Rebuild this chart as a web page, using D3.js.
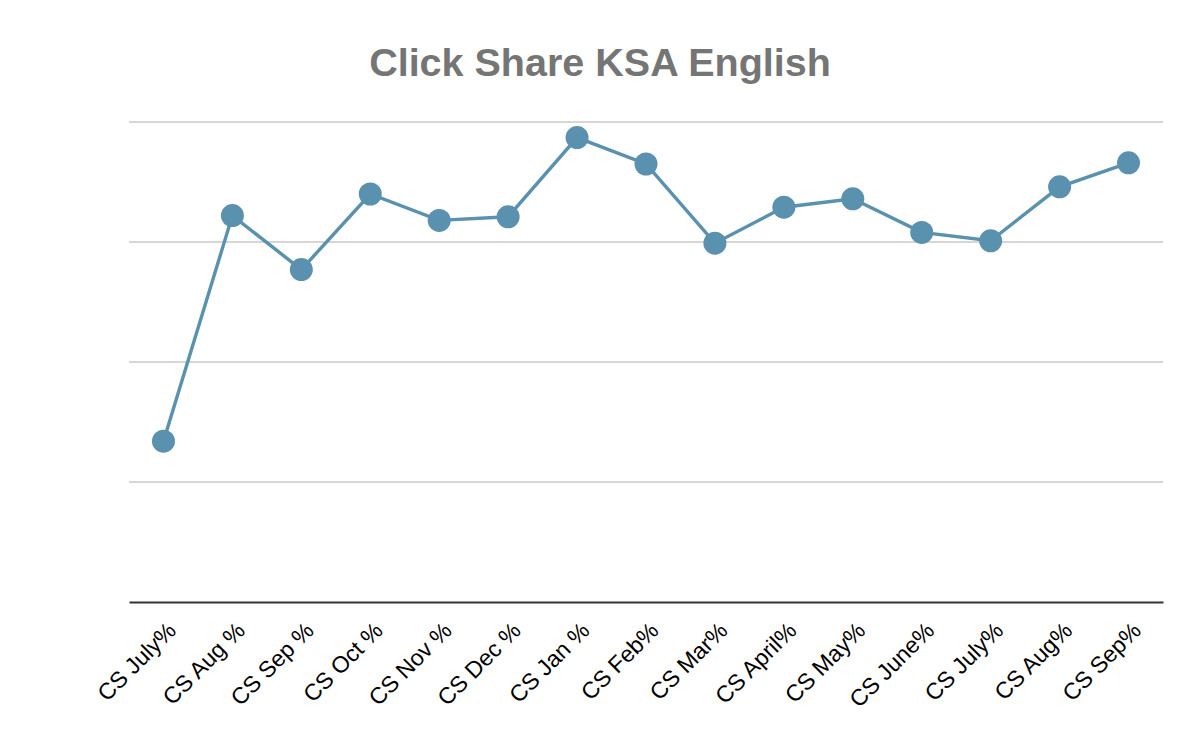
<!DOCTYPE html>
<html>
<head>
<meta charset="utf-8">
<script src="https://cdn.jsdelivr.net/npm/d3@7"></script>
<style>
  html, body { margin: 0; padding: 0; background: #fff; }
  svg { display: block; }
</style>
</head>
<body>
<svg id="chart" width="1200" height="742"></svg>
<script>
const title = "Click Share KSA English";
const categories = ["CS July%", "CS Aug %", "CS Sep %", "CS Oct %", "CS Nov %", "CS Dec %", "CS Jan %", "CS Feb%", "CS Mar%", "CS April%", "CS May%", "CS June%", "CS July%", "CS Aug%", "CS Sep%"];
const values = [13.4, 32.2, 27.7, 34.0, 31.8, 32.1, 38.7, 36.5, 29.9, 32.9, 33.6, 30.8, 30.1, 34.6, 36.6];
const gridTicks = [0, 10, 20, 30, 40];

const svg = d3.select("#chart");
const margin = { left: 129, right: 37, top: 122, bottom: 140 };
const W = 1200, H = 742;
const innerH = H - margin.top - margin.bottom;

const x = d3.scaleBand()
  .domain(d3.range(categories.length))
  .range([margin.left, W - margin.right])
  .paddingInner(0).paddingOuter(0);

const y = d3.scaleLinear().domain([0, 40]).range([margin.top + innerH, margin.top]);

svg.append("text")
  .attr("x", 600).attr("y", 76)
  .attr("text-anchor", "middle")
  .attr("font-family", "'Liberation Sans', Arial, sans-serif")
  .attr("font-weight", "bold")
  .attr("font-size", 39.5)
  .attr("fill", "#757575")
  .text(title);

// gridlines
svg.append("g")
  .selectAll("line")
  .data(gridTicks.filter(d => d !== 0))
  .join("line")
  .attr("x1", margin.left).attr("x2", W - margin.right)
  .attr("y1", d => y(d)).attr("y2", d => y(d))
  .attr("stroke", "#c8c8c8").attr("stroke-width", 1.5);

// x axis
const xAxis = d3.axisBottom(x).tickSize(0).tickFormat(i => categories[i]);
const gx = svg.append("g")
  .attr("transform", `translate(0,${y(0)})`)
  .call(xAxis);
gx.select(".domain").attr("stroke", "#333").attr("stroke-width", 2);
gx.selectAll(".tick text")
  .attr("font-family", "'Liberation Sans', Arial, sans-serif")
  .attr("font-size", 23)
  .attr("fill", "#000")
  .attr("text-anchor", "end")
  .attr("dy", 0)
  .attr("y", 0)
  .attr("transform", "translate(14,30) rotate(-45)");

const cx = i => x(i) + x.bandwidth() / 2;

const line = d3.line().x((d, i) => cx(i)).y(d => y(d));
svg.append("path")
  .datum(values)
  .attr("d", line)
  .attr("fill", "none")
  .attr("stroke", "#5a91ae")
  .attr("stroke-width", 3.4);

svg.append("g")
  .selectAll("circle")
  .data(values)
  .join("circle")
  .attr("cx", (d, i) => cx(i))
  .attr("cy", d => y(d))
  .attr("r", 11.5)
  .attr("fill", "#5a91ae");
</script>
</body>
</html>
